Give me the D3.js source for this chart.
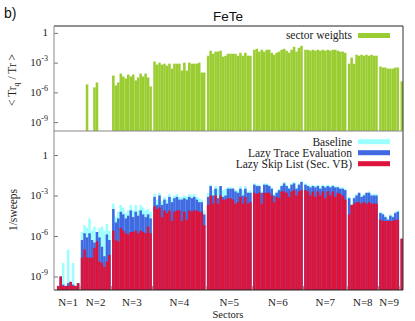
<!DOCTYPE html>
<html><head><meta charset="utf-8">
<script src="https://cdn.jsdelivr.net/npm/d3@7"></script>
<style>body{margin:0;background:#fff} svg{display:block}</style>
</head><body><svg id="c" width="415" height="321"></svg>
<script>
// ---------------- data ----------------
const groupLabels = ["N=1","N=2","N=3","N=4","N=5","N=6","N=7","N=8","N=9",""];
const groupSizes  = [9,12,16,21,18,20,17,12,8,1];
const tickValues  = [1,1e-3,1e-6,1e-9];
const legendTop   = ["sector weights"];
const legendBottom= ["Baseline","Lazy Trace Evaluation","Lazy Skip List (Sec. VB)"];

// sector weights <Tr_q/Tr> (null = below axis)
const sectorWeights = [
  null,null,null,null,null,null,null,null,null,
  null,null,6.3e-6,null,null,3.2e-6,1e-5,null,null,null,null,null,
  5e-5,5e-6,1e-5,7.9e-5,4e-5,2.5e-5,6.3e-5,4e-5,6.3e-5,1.6e-5,3.2e-5,7.9e-5,4e-5,7.9e-5,3.2e-5,4e-6,
  1.3e-3,6.3e-4,1e-3,6.3e-4,7.9e-4,5e-4,7.9e-4,2.5e-4,7.9e-4,7.9e-4,7.9e-4,1.6e-4,1e-3,1.6e-4,1e-3,7.9e-4,7.9e-4,7.9e-4,1e-3,1e-4,1e-4,
  5e-3,1.6e-2,7.9e-3,1.3e-2,1.3e-2,1.6e-2,4e-3,5e-3,7.9e-3,7.9e-3,7.9e-3,7.9e-3,5e-3,1e-2,5e-3,1e-2,5e-3,5e-3,
  2e-2,2.5e-2,1.3e-2,2e-2,1.3e-2,2e-2,2e-2,1e-2,6.3e-3,1e-2,1.3e-2,2e-2,2.5e-2,1.6e-2,1e-2,2e-2,4e-2,1.3e-2,3.2e-2,5e-2,
  2e-2,2e-2,1.6e-2,2e-2,1.6e-2,2e-2,1.6e-2,2e-2,1.6e-2,2e-2,1.6e-2,2e-2,2e-2,1.6e-2,1.3e-2,1.3e-2,1e-2,
  7.9e-4,3.2e-3,7.9e-4,6.3e-3,5e-3,6.3e-3,5e-3,6.3e-3,5e-3,6.3e-3,5e-3,5e-3,
  4e-4,3.2e-4,3.2e-4,2.5e-4,2.5e-4,2.5e-4,3.2e-4,3.2e-4,
  1.3e-5
];
// 1/sweeps : Baseline
const baseline = [
  2e-10,1e-9,1e-8,2e-10,1e-7,4e-10,1e-8,2e-10,3.2e-10,
  2e-6,6.3e-6,4e-6,2e-5,2.5e-6,5e-6,2e-6,4e-6,5e-6,2.5e-6,7.9e-6,2.5e-6,
  2.5e-4,2.5e-5,6.3e-5,2e-4,1.3e-4,5e-5,7.9e-5,2e-4,7.9e-5,2e-4,7.9e-5,2e-4,1.3e-4,7.9e-5,1e-4,6.3e-5,
  1.3e-3,5e-4,1.6e-3,4e-4,7.9e-4,5e-4,1.3e-3,6.3e-4,1e-3,1.3e-3,7.9e-4,7.9e-4,1e-3,7.9e-4,1.3e-3,1e-3,1.3e-3,7.9e-4,6.3e-4,5e-4,7.9e-5,
  1.6e-3,6.3e-3,2.5e-3,5e-3,3.2e-3,5e-3,2.5e-3,3.2e-3,4e-3,4e-3,4e-3,2.5e-3,2.5e-3,5e-3,2.5e-3,5e-3,2e-3,2.5e-3,
  7.9e-3,6.3e-3,6.3e-3,2e-3,7.9e-3,7.9e-3,6.3e-3,4e-3,1.3e-3,2e-3,3.2e-3,6.3e-3,1e-2,6.3e-3,4e-3,7.9e-3,1e-2,4e-3,7.9e-3,1.3e-2,
  7.9e-3,6.3e-3,5e-3,6.3e-3,5e-3,6.3e-3,4e-3,6.3e-3,5e-3,6.3e-3,5e-3,6.3e-3,5e-3,5e-3,4e-3,4e-3,3.2e-3,
  7.9e-4,2.5e-4,7.9e-4,1.3e-3,1.6e-3,1e-3,1.3e-3,1.6e-3,2e-3,1.3e-3,1.3e-3,1.3e-3,
  6.3e-5,5e-5,3.2e-5,2e-5,4e-5,3.2e-5,6.3e-5,7.9e-5,
  6.3e-7
];
// 1/sweeps : Lazy Trace Evaluation
const lazyTrace = [
  2e-10,1e-9,2.5e-10,2e-10,3.2e-10,4e-10,2.5e-10,2e-10,3.2e-10,
  5e-7,1.6e-6,7.9e-7,1.6e-6,5e-7,3.2e-7,2e-6,7.9e-7,1.6e-7,3.2e-8,1.3e-6,5e-7,
  1e-4,1e-5,2e-5,6.3e-5,4e-5,2e-5,3.2e-5,7.9e-5,2.5e-5,6.3e-5,3.2e-5,7.9e-5,4e-5,2.5e-5,4e-5,2e-5,
  7.9e-4,2e-4,1e-3,2e-4,5e-4,2.5e-4,7.9e-4,3.2e-4,6.3e-4,7.9e-4,5e-4,5e-4,6.3e-4,5e-4,7.9e-4,6.3e-4,7.9e-4,5e-4,3.2e-4,3.2e-4,4e-5,
  7.9e-4,5e-3,1e-3,3.2e-3,6.3e-4,5e-3,7.9e-4,1e-3,3.2e-3,3.2e-3,3.2e-3,2e-3,1.6e-3,3.2e-3,1e-3,3.2e-3,1.6e-3,1.6e-3,
  6.3e-3,5e-3,5e-3,1.6e-3,6.3e-3,6.3e-3,5e-3,3.2e-3,1e-3,1.6e-3,2.5e-3,5e-3,7.9e-3,5e-3,3.2e-3,6.3e-3,7.9e-3,3.2e-3,6.3e-3,1e-2,
  6.3e-3,5e-3,4e-3,5e-3,4e-3,5e-3,3.2e-3,5e-3,4e-3,5e-3,4e-3,5e-3,4e-3,4e-3,3.2e-3,3.2e-3,2.5e-3,
  6.3e-4,2e-4,6.3e-4,1e-3,1.6e-3,7.9e-4,1e-3,1.6e-3,1.6e-3,1e-3,1e-3,1e-3,
  5e-5,4e-5,2.5e-5,1.6e-5,3.2e-5,2.5e-5,5e-5,6.3e-5,
  6.3e-7
];
// 1/sweeps : Lazy Skip List (Sec. VB)
const skipList = [
  2e-10,1e-9,2e-10,2e-10,2e-10,4e-10,2e-10,2e-10,3.2e-10,
  2.5e-8,1e-7,2.5e-8,2.5e-8,2.5e-8,1.3e-7,4e-7,1.3e-8,1e-8,5e-9,1.3e-8,4e-8,
  2.5e-6,5e-7,4e-7,4e-6,2.5e-6,1.6e-6,1.3e-6,2e-6,2e-6,2.5e-6,1.6e-6,2.5e-6,2e-6,1.6e-6,5e-6,1.6e-6,
  1.6e-4,1e-4,1.3e-4,2.5e-5,7.9e-5,5e-5,7.9e-5,1.3e-5,6.3e-5,7.9e-5,7.9e-5,1.3e-5,6.3e-5,1.6e-5,7.9e-5,6.3e-5,7.9e-5,7.9e-5,6.3e-5,6.3e-5,6.3e-6,
  2e-4,1e-3,2.5e-4,1e-3,2.5e-4,1e-3,5e-4,5e-4,6.3e-4,6.3e-4,5e-4,2.5e-4,3.2e-4,7.9e-4,2.5e-4,7.9e-4,2.5e-4,3.2e-4,
  1.6e-3,1.3e-3,1.6e-3,2.5e-4,1.6e-3,1.6e-3,1.6e-3,1e-3,3.2e-4,7.9e-4,6.3e-4,2e-3,2e-3,1.6e-3,7.9e-4,2e-3,2.5e-3,1e-3,2e-3,2.5e-3,
  2.5e-3,2e-3,1e-3,2e-3,7.9e-4,2e-3,1e-3,2e-3,6.3e-4,2e-3,1e-3,2e-3,7.9e-4,1.6e-3,1.3e-3,1e-3,5e-4,
  4e-5,2e-4,2.5e-4,3.2e-4,3.2e-4,2.5e-4,3.2e-4,2.5e-4,3.2e-4,2.5e-4,2.5e-4,2.5e-4,
  1.6e-5,1.3e-5,1.3e-5,1.3e-5,1.3e-5,1.3e-5,1.6e-5,1.6e-5,
  6.3e-7
];

// ---------------- layout ----------------
const colors = {weights:"#9acd32", baseline:"#9cffff", lazy:"#4169e1", skip:"#dc143c"};
const SERIF = "'Liberation Serif','Times New Roman',serif";
const SANS  = "'Liberation Sans',Arial,sans-serif";
const L=54, R=403, T1=26, B1=131, T2=131, B2=290;
const GAP=0.6, PAD=1.2;

const svg = d3.select("#c");
const starts=[]; let cur=0;
groupSizes.forEach(n=>{starts.push(cur); cur+=n+GAP;});
const total = cur-GAP;
const x = d3.scaleLinear().domain([-PAD,total]).range([L,R]);
const sectors=[];
groupSizes.forEach((n,g)=>{for(let i=0;i<n;i++) sectors.push({g,pos:starts[g]+i});});

const yTop = d3.scaleLog().domain([Math.pow(10,-9.9),Math.pow(10,0.7)]).range([B1,T1]);
const yBot = d3.scaleLog().domain([1e-10,Math.pow(10,1.78)]).range([B2,T2]);

const defs = svg.append("defs");
defs.append("clipPath").attr("id","cp1").append("rect").attr("x",L).attr("y",T1).attr("width",R-L).attr("height",B1-T1);
defs.append("clipPath").attr("id","cp2").append("rect").attr("x",L).attr("y",T2).attr("width",R-L).attr("height",B2-T2);

function drawBars(values, y, bottom, color, clip){
  const data = sectors.map((s,i)=>({pos:s.pos, v:values[i]})).filter(d=>d.v!=null);
  svg.append("g").attr("clip-path",`url(#${clip})`).selectAll("rect").data(data).join("rect")
    .attr("x",d=>x(d.pos)).attr("width",d=>x(d.pos+1)-x(d.pos)+0.05)
    .attr("y",d=>y(d.v)).attr("height",d=>Math.max(0,bottom-y(d.v)))
    .attr("fill",color);
}
drawBars(sectorWeights, yTop, B1, colors.weights, "cp1");
drawBars(baseline, yBot, B2, colors.baseline, "cp2");
drawBars(lazyTrace, yBot, B2, colors.lazy, "cp2");
drawBars(skipList, yBot, B2, colors.skip, "cp2");

// y axes
function yAxis(y){
  const g = svg.append("g").attr("transform",`translate(${L},0)`)
    .call(d3.axisLeft(y).tickValues(tickValues).tickSize(-4).tickFormat(""));
  g.select(".domain").remove();
  g.selectAll(".tick line").attr("stroke","#777");
  tickValues.forEach(v=>{
    const e = Math.round(Math.log10(v));
    const t = svg.append("text").attr("x",L-6).attr("y",y(v)+3.5)
      .attr("text-anchor","end").attr("font-family",SERIF).attr("font-size",11).attr("fill","#222");
    if(e===0){ t.text("1"); }
    else { t.append("tspan").text("10"); t.append("tspan").attr("dy",-5).attr("font-size",8).text(String(e)); }
  });
}
yAxis(yTop); yAxis(yBot);

// group boundary ticks
const bounds = starts.slice(1).map(s=>s-GAP/2);
svg.append("g").selectAll("line").data(bounds).join("line")
  .attr("x1",d=>x(d)).attr("x2",d=>x(d)).attr("y1",B2).attr("y2",B2-4)
  .attr("stroke","#888").attr("stroke-width",1);

// frames
svg.append("line").attr("x1",L).attr("x2",R).attr("y1",T1).attr("y2",T1).attr("stroke","#222");
svg.append("line").attr("x1",L).attr("x2",R).attr("y1",B2).attr("y2",B2).attr("stroke","#222");
svg.append("line").attr("x1",R).attr("x2",R).attr("y1",T1).attr("y2",B2).attr("stroke","#333");
svg.append("line").attr("x1",L).attr("x2",L).attr("y1",T1).attr("y2",B2).attr("stroke","#888");
svg.append("line").attr("x1",L).attr("x2",R).attr("y1",B1).attr("y2",B1).attr("stroke","#888").attr("stroke-width",1.2);

// x group labels
svg.append("g").selectAll("text").data(groupLabels.map((l,g)=>({l,g})).filter(d=>d.l)).join("text")
  .attr("x",d=>x(starts[d.g]+groupSizes[d.g]/2)).attr("y",306)
  .attr("text-anchor","middle").attr("font-family",SERIF).attr("font-size",11).attr("fill","#222")
  .text(d=>d.l);
svg.append("text").attr("x",228).attr("y",318).attr("text-anchor","middle")
  .attr("font-family",SERIF).attr("font-size",10.5).attr("fill","#222").text("Sectors");

// y labels
const yl1 = svg.append("text").attr("transform","translate(16,80) rotate(-90)").attr("text-anchor","middle")
  .attr("font-family",SERIF).attr("font-size",11.5).attr("fill","#222");
yl1.append("tspan").text("< Tr");
yl1.append("tspan").attr("dy",3).attr("font-size",8).text("q");
yl1.append("tspan").attr("dy",-3).text(" / Tr >");
svg.append("text").attr("transform","translate(17,210) rotate(-90)").attr("text-anchor","middle")
  .attr("font-family",SERIF).attr("font-size",11.5).attr("fill","#222").text("1/sweeps");

// title and panel label
svg.append("text").attr("x",228).attr("y",21).attr("text-anchor","middle")
  .attr("font-family",SANS).attr("font-size",13.5).attr("fill","#111").text("FeTe");
svg.append("text").attr("x",4).attr("y",18)
  .attr("font-family",SANS).attr("font-size",14).attr("fill","#111").text("b)");

// legends
function legend(items, cols, y0){
  items.forEach((lab,i)=>{
    const cy = y0 + i*11;
    svg.append("text").attr("x",352).attr("y",cy+3.8).attr("text-anchor","end")
      .attr("font-family",SERIF).attr("font-size",11.5).attr("fill","#222").text(lab);
    svg.append("rect").attr("x",358).attr("y",cy-2.5).attr("width",32).attr("height",5).attr("fill",cols[i]);
  });
}
legend(legendTop,[colors.weights],35.5);
legend(legendBottom,[colors.baseline,colors.lazy,colors.skip],141.7);
</script></body></html>
